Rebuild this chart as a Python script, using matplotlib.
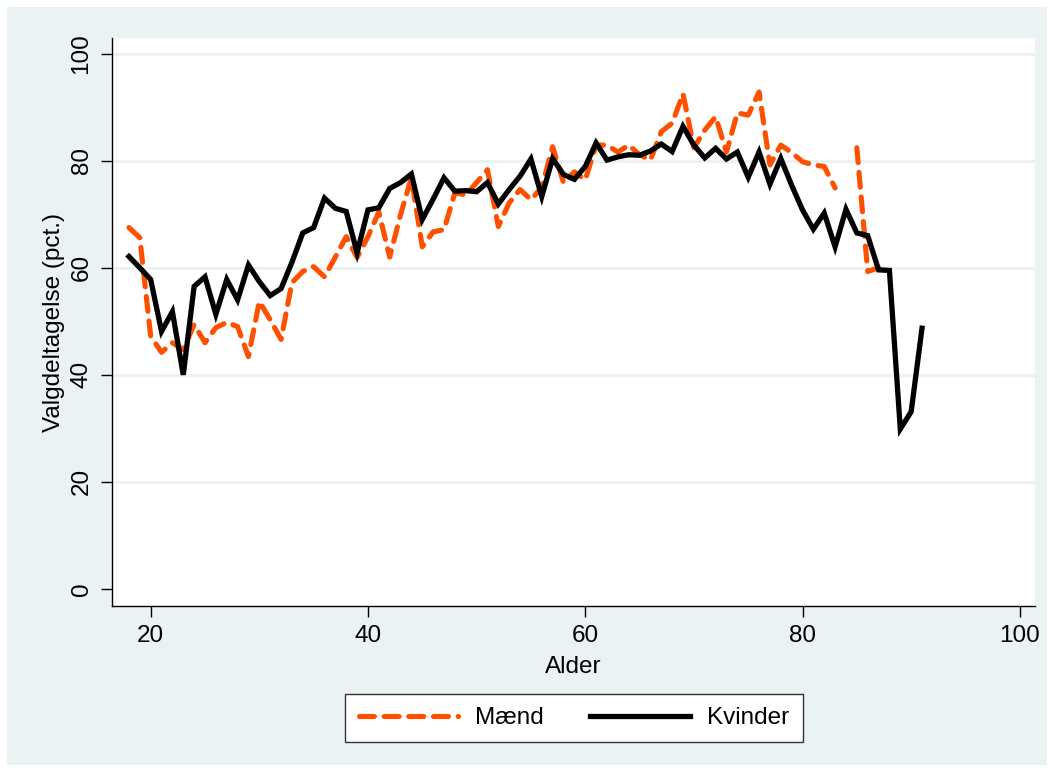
import numpy as np
import matplotlib.pyplot as plt
from matplotlib.patches import Rectangle

plt.rcParams['font.family'] = ['Liberation Sans', 'DejaVu Sans']

# Valgdeltagelse efter alder
alder_m = list(range(18, 88))
maend = [67.5, 65.6, 47.2, 44.2, 46.0, 44.7, 49.4, 46.0, 48.8, 49.8,
         49.0, 43.4, 53.7, 50.3, 46.6, 57.2, 59.3, 60.2, 58.3, 62.0,
         65.8, 61.9, 65.8, 70.4, 62.0, 69.9, 76.8, 63.9, 66.7, 67.1,
         74.0, 73.6, 75.9, 78.3, 67.7, 72.1, 74.6, 72.7, 75.0, 82.6,
         75.9, 77.9, 76.4, 82.9, 82.9, 81.6, 82.9, 81.1, 80.1, 85.4,
         87.0, 92.5, 82.4, 85.7, 88.2, 81.6, 88.9, 88.5, 92.8, 79.2,
         82.9, 81.5, 79.8, 79.2, 78.9, 74.9, np.nan, 82.4, 59.3, 60.0]

alder_k = list(range(18, 92))
kvinder = [62.1, 60.0, 57.8, 48.1, 51.8, 40.0, 56.5, 58.3, 51.3, 57.8,
           54.0, 60.5, 57.4, 54.8, 56.1, 61.0, 66.5, 67.5, 73.0, 71.1,
           70.5, 62.8, 70.8, 71.2, 74.8, 75.9, 77.5, 69.0, 72.8, 76.8,
           74.3, 74.4, 74.2, 75.9, 71.9, 74.6, 77.1, 80.3, 73.3, 80.4,
           77.4, 76.5, 78.9, 83.3, 80.1, 80.7, 81.1, 81.0, 81.8, 83.1,
           81.7, 86.4, 82.9, 80.5, 82.3, 80.3, 81.6, 76.9, 81.6, 75.6,
           80.4, 75.4, 70.8, 67.2, 70.2, 63.9, 70.9, 66.5, 66.0, 59.6,
           59.5, 29.9, 33.1, 48.7]

bg = '#EAF2F3'
orange = '#FF5000'

fig = plt.figure(figsize=(10.53, 7.72), dpi=100, facecolor='white')
fig.patches.append(Rectangle((7 / 1053, 7 / 772), 1040 / 1053, 758 / 772,
                             transform=fig.transFigure, facecolor=bg,
                             edgecolor='none', zorder=-10))

ax = fig.add_axes([112 / 1053, 166 / 772, 923 / 1053, 568 / 772])
ax.set_facecolor('white')

for y in [20, 40, 60, 80, 100]:
    ax.axhline(y, color=bg, linewidth=2.2, zorder=1)

ax.plot(alder_m, maend, color=orange, linewidth=3.7, dashes=(2.9, 1.9),
        dash_capstyle='round', solid_capstyle='round', label='Mænd', zorder=2)
ax.plot(alder_k, kvinder, color='black', linewidth=3.8,
        solid_joinstyle='miter', label='Kvinder', zorder=3)

ax.set_xlim(16.44, 101.4)
ax.set_ylim(-3.17, 102.9)
ax.set_xticks([20, 40, 60, 80, 100])
ax.set_yticks([0, 20, 40, 60, 80, 100])
ax.tick_params(axis='both', direction='out', length=8, width=1.0,
               labelsize=17.5, colors='black', pad=6)
plt.setp(ax.get_yticklabels(), rotation=90, va='center')

for s in ['top', 'right']:
    ax.spines[s].set_visible(False)
for s in ['left', 'bottom']:
    ax.spines[s].set_linewidth(1.0)

ax.set_xlabel('Alder', fontsize=17.5, labelpad=6)
ax.set_ylabel('Valgdeltagelse (pct.)', fontsize=17.5, labelpad=4)

leg = fig.legend(loc='center', bbox_to_anchor=(574 / 1053, 1 - 718 / 772),
                 ncol=2, fontsize=17.5, frameon=True, fancybox=False,
                 framealpha=1.0, facecolor='white',
                 handlelength=4.1, columnspacing=1.9, handletextpad=0.7,
                 borderpad=0.55, borderaxespad=0)
leg.get_frame().set_edgecolor('#333333')
leg.get_frame().set_linewidth(1.0)

fig.savefig('out.png', dpi=100, facecolor='white')
